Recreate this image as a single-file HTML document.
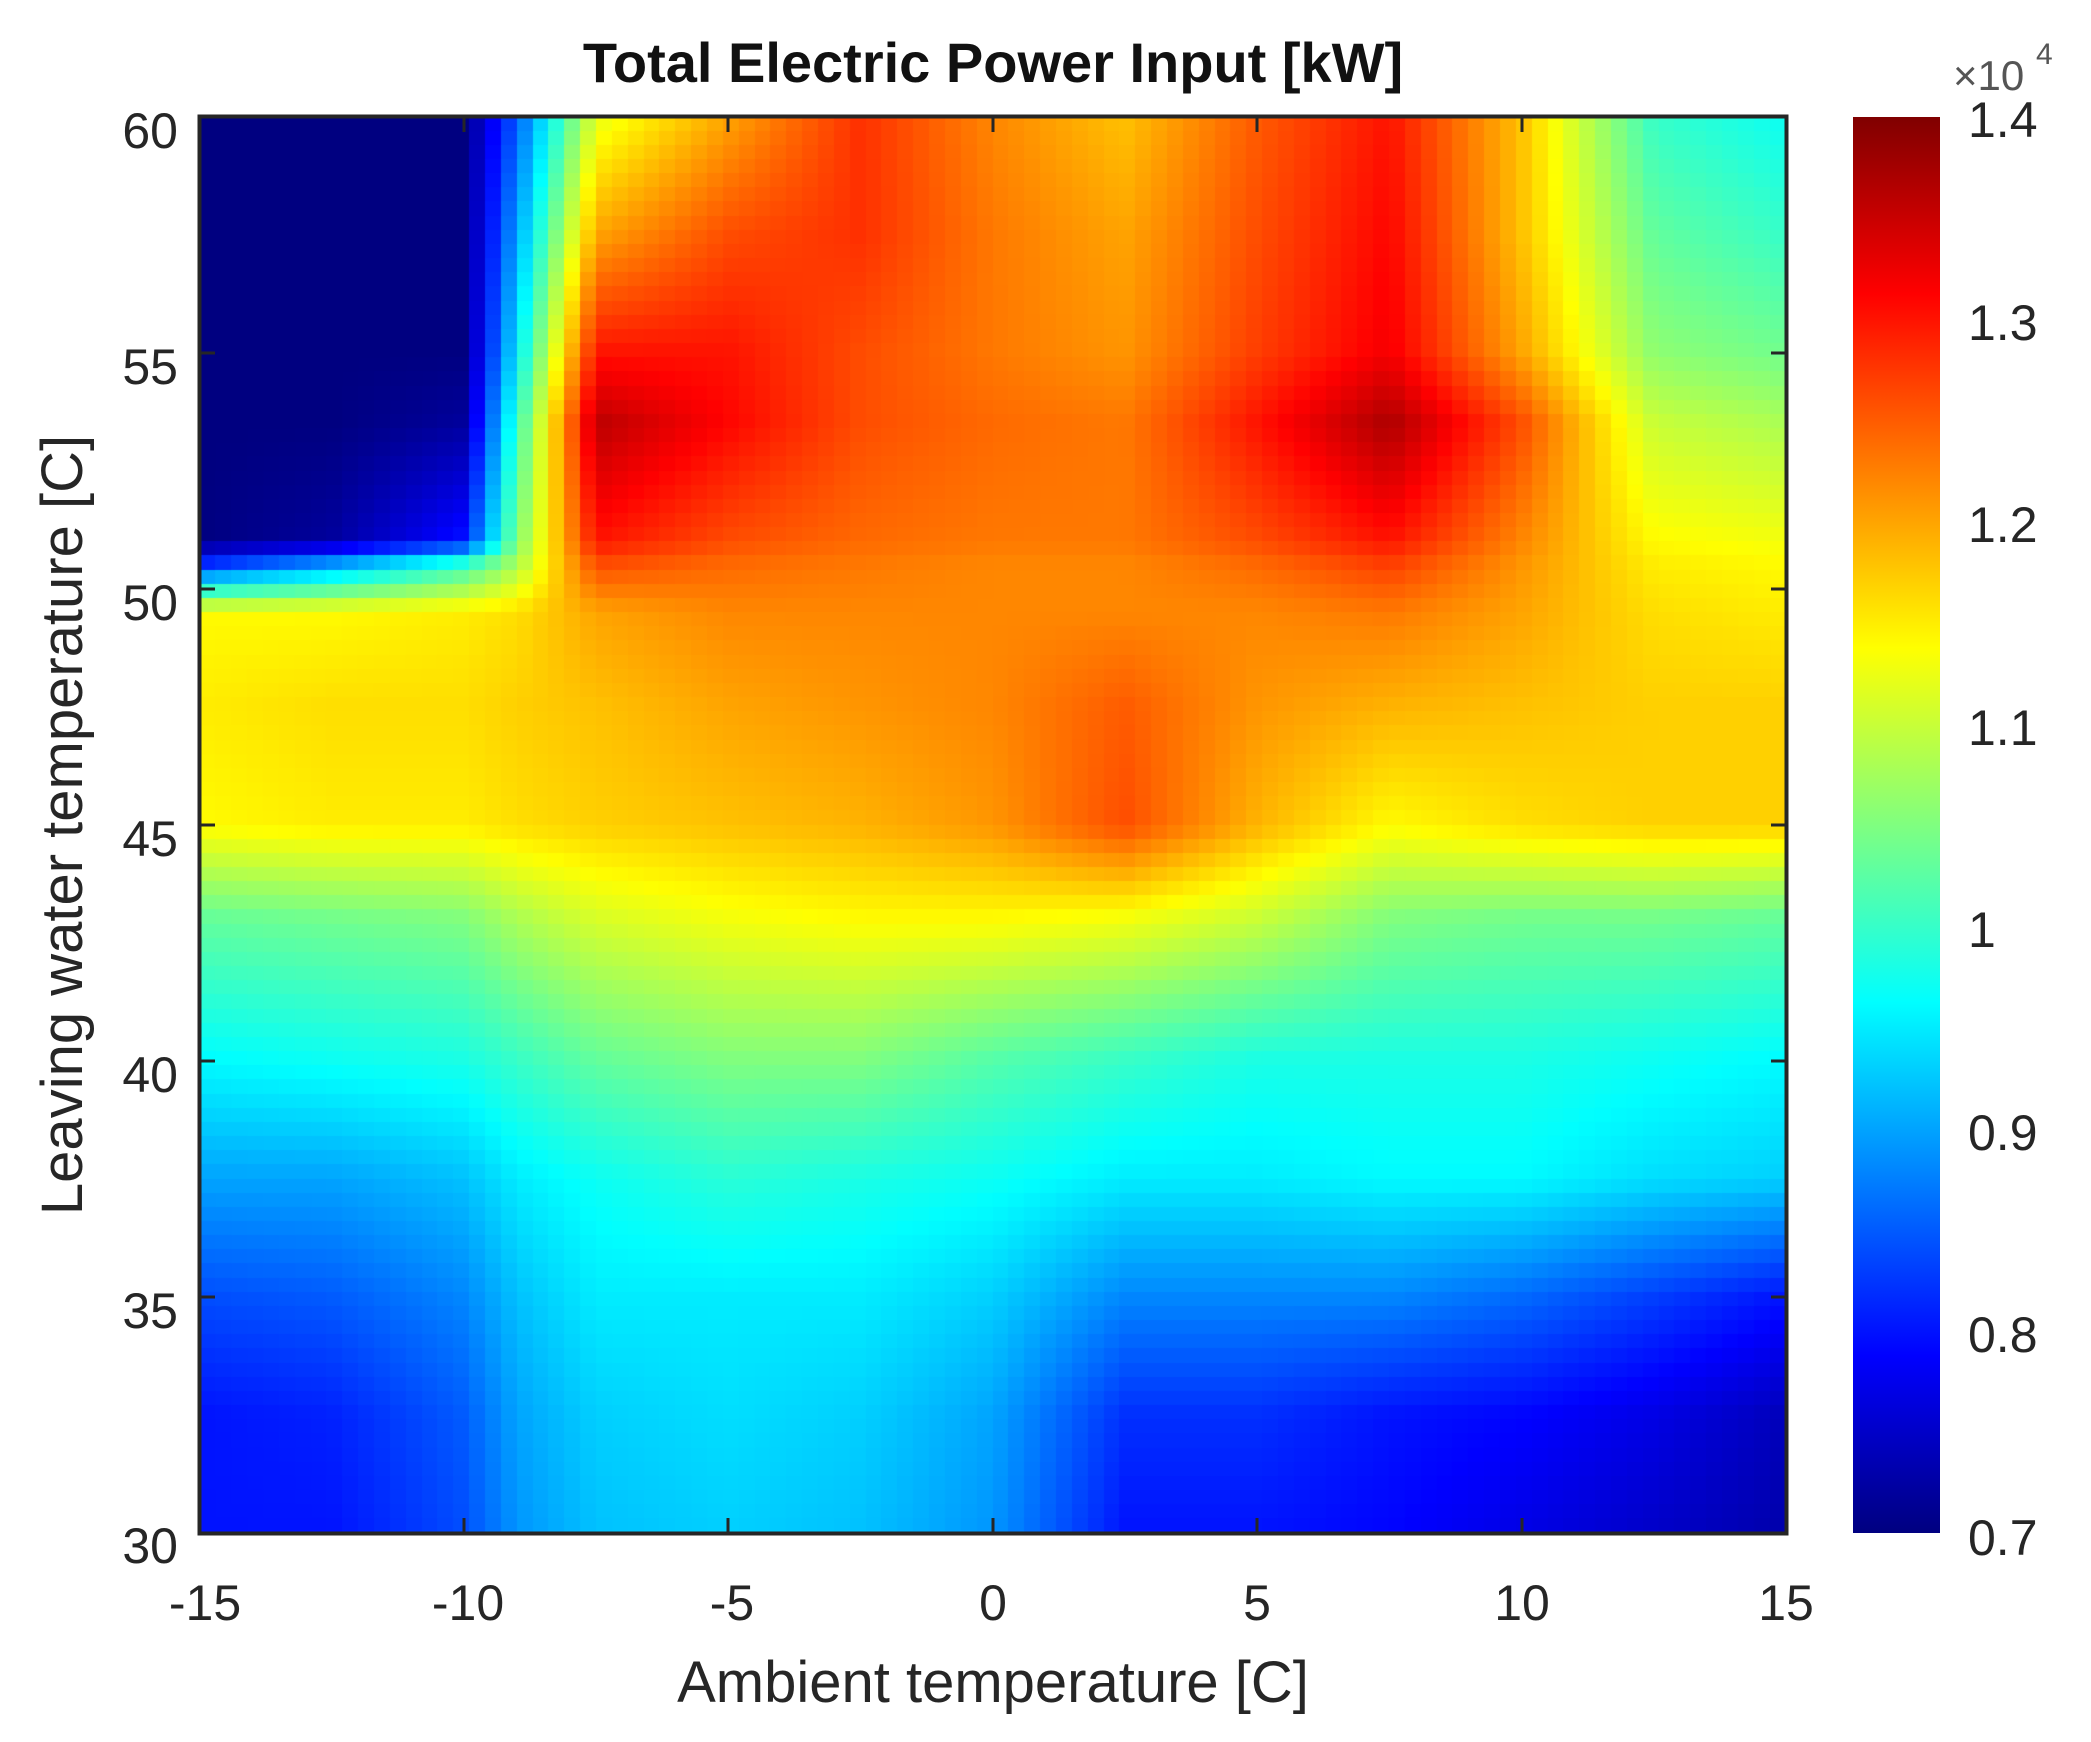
<!DOCTYPE html>
<html><head><meta charset="utf-8"><style>
html,body{margin:0;padding:0;background:#fff;width:2091px;height:1742px;overflow:hidden;font-family:"Liberation Sans",Arial,sans-serif}
#c{position:absolute;left:200px;top:117px;width:1586px;height:1416px}
#cb{position:absolute;left:1853px;top:117px;width:87px;height:1416px;background:linear-gradient(to top,#000080 0%,#0000ff 12.5%,#00ffff 37.5%,#ffff00 62.5%,#ff0000 87.5%,#800000 100%)}
svg{position:absolute;left:0;top:0}
</style></head><body>
<canvas id="c" width="1586" height="1416"></canvas>
<div id="cb"></div>
<svg width="2091" height="1742" font-family="Liberation Sans, Arial, sans-serif">
<rect x="199.5" y="116.5" width="1587" height="1417" fill="none" stroke="#262626" stroke-width="4"/>
<g stroke="#262626" stroke-width="3">
<line x1="199" y1="1533" x2="199" y2="1518"/><line x1="464" y1="1533" x2="464" y2="1518"/><line x1="728" y1="1533" x2="728" y2="1518"/><line x1="993" y1="1533" x2="993" y2="1518"/><line x1="1257" y1="1533" x2="1257" y2="1518"/><line x1="1522" y1="1533" x2="1522" y2="1518"/>
<line x1="464" y1="117" x2="464" y2="132"/><line x1="728" y1="117" x2="728" y2="132"/><line x1="993" y1="117" x2="993" y2="132"/><line x1="1257" y1="117" x2="1257" y2="132"/><line x1="1522" y1="117" x2="1522" y2="132"/>
<line x1="200" y1="353" x2="215" y2="353"/><line x1="200" y1="589" x2="215" y2="589"/><line x1="200" y1="825" x2="215" y2="825"/><line x1="200" y1="1061" x2="215" y2="1061"/><line x1="200" y1="1297" x2="215" y2="1297"/>
<line x1="1786" y1="353" x2="1771" y2="353"/><line x1="1786" y1="589" x2="1771" y2="589"/><line x1="1786" y1="825" x2="1771" y2="825"/><line x1="1786" y1="1061" x2="1771" y2="1061"/><line x1="1786" y1="1297" x2="1771" y2="1297"/>
</g>
<text x="993" y="82" font-size="56" font-weight="bold" text-anchor="middle" fill="#111">Total Electric Power Input [kW]</text>
<g font-size="50" fill="#262626" text-anchor="middle">
<text x="205" y="1620">-15</text><text x="468" y="1620">-10</text><text x="732" y="1620">-5</text><text x="993" y="1620">0</text><text x="1257" y="1620">5</text><text x="1522" y="1620">10</text><text x="1786" y="1620">15</text>
</g>
<g font-size="50" fill="#262626" text-anchor="end">
<text x="178" y="148">60</text><text x="178" y="384">55</text><text x="178" y="620">50</text><text x="178" y="856">45</text><text x="178" y="1092">40</text><text x="178" y="1328">35</text><text x="178" y="1563">30</text>
</g>
<g font-size="50" fill="#262626">
<text x="1968" y="137">1.4</text><text x="1968" y="340">1.3</text><text x="1968" y="542">1.2</text><text x="1968" y="745">1.1</text><text x="1968" y="947">1</text><text x="1968" y="1150">0.9</text><text x="1968" y="1352">0.8</text><text x="1968" y="1555">0.7</text>
</g>
<text x="1953" y="90" font-size="42" fill="#555">×10</text><text x="2036" y="64" font-size="30" fill="#555">4</text>
<text x="993" y="1702" font-size="58" text-anchor="middle" fill="#262626">Ambient temperature [C]</text>
<text transform="translate(82,825) rotate(-90)" font-size="58" text-anchor="middle" fill="#262626">Leaving water temperature [C]</text>
</svg>
<script>
var xs=[-15,-12.5,-10,-9,-7.5,-5,-2.5,0,2.5,5,7.5,10,12.5,15];
var ys=[60,57.5,55,53.5,51,50.5,49.5,47.5,45,43,40,37.5,35,32.5,30];
var V=[
[0.7,0.7,0.7,0.85,1.12,1.2,1.28,1.22,1.18,1.25,1.30,1.18,1.0,0.97],
[0.7,0.7,0.7,0.9,1.2,1.26,1.28,1.23,1.2,1.26,1.31,1.18,1.03,1.0],
[0.7,0.7,0.7,0.95,1.3,1.3,1.26,1.23,1.21,1.27,1.32,1.2,1.06,1.04],
[0.7,0.7,0.72,1.0,1.36,1.31,1.26,1.24,1.23,1.3,1.37,1.26,1.1,1.08],
[0.7,0.72,0.8,1.05,1.3,1.26,1.24,1.23,1.23,1.26,1.3,1.22,1.14,1.13],
[0.82,0.9,1.0,1.08,1.26,1.24,1.23,1.22,1.22,1.24,1.27,1.21,1.15,1.14],
[1.14,1.14,1.15,1.16,1.2,1.22,1.22,1.22,1.22,1.22,1.23,1.2,1.16,1.15],
[1.15,1.16,1.16,1.17,1.18,1.2,1.21,1.22,1.25,1.21,1.19,1.18,1.17,1.17],
[1.14,1.15,1.15,1.16,1.17,1.18,1.19,1.21,1.26,1.19,1.14,1.16,1.17,1.17],
[1.03,1.04,1.05,1.08,1.11,1.13,1.14,1.14,1.13,1.1,1.05,1.04,1.04,1.03],
[0.96,0.97,0.98,1.0,1.03,1.05,1.05,1.02,1.0,0.98,0.98,0.98,0.97,0.96],
[0.9,0.9,0.92,0.95,0.97,0.99,0.98,0.97,0.95,0.95,0.96,0.96,0.94,0.93],
[0.84,0.85,0.88,0.92,0.95,0.95,0.95,0.93,0.88,0.88,0.88,0.86,0.83,0.8],
[0.8,0.81,0.85,0.9,0.93,0.94,0.93,0.9,0.82,0.82,0.8,0.79,0.77,0.74],
[0.8,0.8,0.84,0.89,0.92,0.93,0.92,0.89,0.8,0.8,0.79,0.77,0.75,0.73]];
function idx(a,v,desc){for(var i=0;i<a.length-1;i++){var lo=a[i],hi=a[i+1];if(desc?(v<=lo&&v>=hi):(v>=lo&&v<=hi))return [i,(v-lo)/(hi-lo)];}return [a.length-2,1];}
function jet(t){t=Math.max(0,Math.min(1,t));function f(x){return Math.max(0,Math.min(1,1.5-Math.abs(4*t-x)));}
return [Math.round(255*f(3)),Math.round(255*f(2)),Math.round(255*f(1))];}
var cv=document.getElementById('c'),ctx=cv.getContext('2d');
var W=1586,H=1416,NX=100,NY=100;
for(var j=0;j<NY;j++){for(var i=0;i<NX;i++){
var x=-15+30*(i+0.5)/NX,y=60-30*(j+0.5)/NY;
var a=idx(xs,x,false),b=idx(ys,y,true);
var ii=a[0],tx=a[1],jj=b[0],ty=b[1];
var v=(1-tx)*(1-ty)*V[jj][ii]+tx*(1-ty)*V[jj][ii+1]+(1-tx)*ty*V[jj+1][ii]+tx*ty*V[jj+1][ii+1];
var c=jet((v-0.7)/0.7);
ctx.fillStyle='rgb('+c[0]+','+c[1]+','+c[2]+')';
var x0=Math.floor(i*W/NX),x1=Math.floor((i+1)*W/NX),y0=Math.floor(j*H/NY),y1=Math.floor((j+1)*H/NY);
ctx.fillRect(x0,y0,x1-x0,y1-y0);}}
</script>
</body></html>
